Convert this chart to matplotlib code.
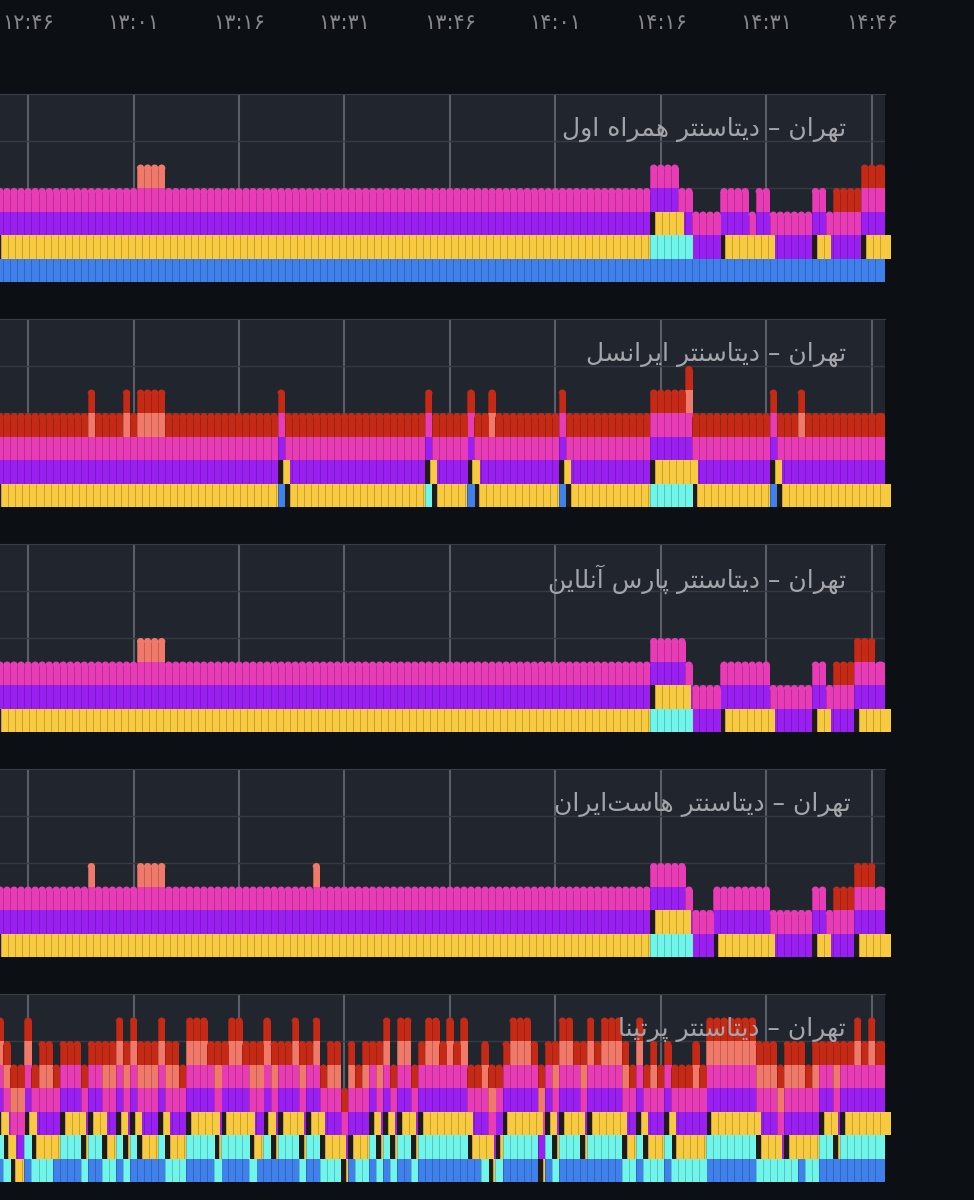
import matplotlib
matplotlib.use('Agg')
import matplotlib.pyplot as plt
from matplotlib.patches import Ellipse

# one entry per run of minutes: (statuses present in the column, number of minutes)
# b blue, c cyan, y yellow, p purple, m magenta, s salmon, r red
hamrah_cols = [
    ('bypm', 20), ('bypms', 4), ('bypm', 69), ('bcypm', 4), ('bcpm', 2), ('bpm', 4),
    ('bypm', 4), ('bym', 1), ('bypm', 2), ('bpm', 6), ('bypm', 2), ('bpm', 1),
    ('bpmr', 4), ('bypmr', 3),
]
irancell_cols = [
    ('ypmr', 13), ('ypmsr', 1), ('ypmr', 4), ('ypmsr', 1), ('ypmr', 1), ('ypmsr', 4),
    ('ypmr', 16), ('bypmr', 1), ('ypmr', 20), ('cypmr', 1), ('ypmr', 5), ('bypmr', 1),
    ('ypmr', 2), ('ypmsr', 1), ('ypmr', 9), ('bypmr', 1), ('ypmr', 12), ('cypmr', 5),
    ('cypmsr', 1), ('ypmr', 11), ('bypmr', 1), ('ypmr', 3), ('ypmsr', 1), ('ypmr', 11),
]
parsonline_cols = [
    ('ypm', 20), ('ypms', 4), ('ypm', 69), ('cypm', 5), ('cpm', 1), ('pm', 4),
    ('ypm', 7), ('pm', 6), ('ypm', 2), ('pm', 1), ('pmr', 3), ('ypmr', 3), ('ypm', 1),
]
hostiran_cols = [
    ('ypm', 13), ('ypms', 1), ('ypm', 6), ('ypms', 4), ('ypm', 21), ('ypms', 1),
    ('ypm', 47), ('cypm', 5), ('cpm', 1), ('pm', 3), ('ypm', 8), ('pm', 6), ('ypm', 2),
    ('pm', 1), ('pmr', 3), ('ypmr', 3), ('ypm', 1),
]
pertina_cols = [
    ('bcypmsr', 1), ('cypmsr', 1), ('ypmsr', 2), ('bcypmsr', 1), ('cypmr', 1), ('cypmsr', 2),
    ('bypmr', 1), ('bcypmr', 3), ('cypmr', 1), ('bcypmr', 2), ('cypmsr', 2), ('bcypmsr', 1),
    ('cypmsr', 1), ('bcypmsr', 1), ('bypmsr', 3), ('bcypmsr', 1), ('cypmsr', 2), ('cypmr', 1),
    ('bcypmsr', 3), ('bcypmr', 1), ('cypmsr', 1), ('bcypmr', 1), ('bcypmsr', 2), ('bcypmr', 1),
    ('cypmsr', 1), ('bypmsr', 1), ('bcypmsr', 1), ('bypmsr', 1), ('bcypmr', 2), ('bcypmsr', 1),
    ('cypmsr', 1), ('bcypmr', 1), ('bcypmsr', 1), ('cypmr', 1), ('cypmsr', 2), ('ypmr', 1),
    ('bypmsr', 1), ('cypmr', 1), ('cypmsr', 1), ('bcypmr', 1), ('cypmsr', 1), ('bcypmsr', 1),
    ('cypmr', 1), ('bcypmsr', 2), ('cypmr', 1), ('bcypmr', 1), ('bcypmsr', 2), ('bcypmr', 1),
    ('bcypmsr', 1), ('bcypmr', 1), ('bcypmsr', 1), ('bypmr', 2), ('cypmsr', 1), ('ypmsr', 1),
    ('cypmr', 1), ('bcypmr', 1), ('bcypmsr', 3), ('bcypmr', 1), ('ypmsr', 1), ('bcypmr', 1),
    ('cypmsr', 1), ('bcypmsr', 2), ('bcypmr', 1), ('bypmsr', 1), ('bcypmsr', 1), ('bcypmr', 1),
    ('bcypmsr', 3), ('cypmsr', 1), ('cypmr', 1), ('bcypmsr', 1), ('cypmr', 1), ('cypmsr', 1),
    ('cypmr', 1), ('bcypmr', 1), ('cypmr', 3), ('cypmsr', 1), ('cypmr', 1), ('bcypmsr', 7),
    ('cypmsr', 3), ('cpmsr', 1), ('cypmsr', 2), ('bypmsr', 1), ('cypmr', 1), ('cypmsr', 1),
    ('bcypmr', 2), ('bypmsr', 1), ('bcypmr', 2), ('bcypmsr', 1), ('bcypmr', 1), ('bcypmsr', 1),
    ('bcypmr', 1),
]

panel_cols = [hamrah_cols, irancell_cols, parsonline_cols, hostiran_cols, pertina_cols]
titles = [
    'تهران – دیتاسنتر همراه اول',
    'تهران – دیتاسنتر ایرانسل',
    'تهران – دیتاسنتر پارس آنلاین',
    'تهران – دیتاسنتر هاست\u200cایران',
    'تهران – دیتاسنتر پرتینا',
]
# minutes since 12:42 and their labels
tick_minutes = [4, 19, 34, 49, 64, 79, 94, 109, 124]
tick_labels = ['۱۲:۴۶', '۱۳:۰۱', '۱۳:۱۶', '۱۳:۳۱', '۱۳:۴۶', '۱۴:۰۱', '۱۴:۱۶', '۱۴:۳۱', '۱۴:۴۶']

colors = {
    'b': '#3f80ea', 'c': '#6ff5ea', 'y': '#f8ca40', 'p': '#9a20f2',
    'm': '#e83cb6', 's': '#f0796a', 'r': '#c52a17',
}
draw_order = [('p', 3), ('m', 3), ('s', 3), ('r', 3), ('y', 4), ('b', 5), ('c', 5)]

FIG_BG = '#0c0f14'
PANEL_BG = '#21252e'
GAP = '#201b16'
PX = 7.03  # pixels per minute
BAR_W = 1.04
YELLOW_SHIFT = 0.71
CAP = 0.15

# matplotlib does no arabic shaping, so map letters to presentation forms
forms = {
    'ت': 'ﺕﺖﺗﺘ', 'ه': 'ﻩﻪﻫﻬ', 'ن': 'ﻥﻦﻧﻨ', 'ی': 'ﯼﯽﯾﯿ', 'س': 'ﺱﺲﺳﺴ',
    'م': 'ﻡﻢﻣﻤ', 'ل': 'ﻝﻞﻟﻠ', 'پ': 'ﭖﭗﭘﭙ',
    'ر': 'ﺭﺮ', 'ا': 'ﺍﺎ', 'د': 'ﺩﺪ', 'و': 'ﻭﻮ', 'آ': 'ﺁﺂ',
}


def shape_fa(text):
    out = []
    for n, ch in enumerate(text):
        if ch not in forms:
            if ch != '\u200c':
                out.append(ch)
            continue
        prev = text[n - 1] if n > 0 else ' '
        nxt = text[n + 1] if n + 1 < len(text) else ' '
        join_prev = prev in forms and len(forms[prev]) == 4
        join_next = nxt in forms and len(forms[ch]) == 4
        if len(forms[ch]) == 2:
            out.append(forms[ch][1 if join_prev else 0])
        elif join_prev and join_next:
            out.append(forms[ch][3])
        elif join_prev:
            out.append(forms[ch][1])
        elif join_next:
            out.append(forms[ch][2])
        else:
            out.append(forms[ch][0])
    return ''.join(out[::-1])


plt.rcParams['font.family'] = ['DejaVu Sans']
fig = plt.figure(figsize=(9.74, 12), dpi=100, facecolor=FIG_BG)

for p, runs in enumerate(panel_cols):
    top_px = 94 + 225 * p
    ax = fig.add_axes([0, 1 - (top_px + 188) / 1200, 885 / 974, 188 / 1200], facecolor=PANEL_BG)
    ax.set_xlim(0, 885 / PX)
    ax.set_ylim(0, 8)
    ax.set_axisbelow(True)
    ax.set_xticks(tick_minutes)
    ax.set_yticks([2, 4, 6])
    ax.set_yticklabels([])
    ax.grid(axis='x', color='#5b5e66', lw=1.5)
    ax.grid(axis='y', color='#363a42', lw=1)
    for side in ['left', 'right', 'bottom']:
        ax.spines[side].set_visible(False)
    ax.spines['top'].set_color('#3a3d45')
    ax.tick_params(length=0)

    if p == 0:
        ax.xaxis.tick_top()
        ax.set_xticklabels(tick_labels, color='#85878c', fontsize=15)
        ax.tick_params(axis='x', pad=44)
    else:
        ax.set_xticklabels([])

    # expand the runs to one stack per minute
    stacks = []
    for stack, count in runs:
        stacks += [stack] * count

    for key, z in draw_order:
        xs, bottoms, heights, widths = [], [], [], []
        for i, stack in enumerate(stacks):
            if key not in stack:
                continue
            level = stack.index(key)
            is_top = level == len(stack) - 1
            w = BAR_W + 0.46 if i == len(stacks) - 1 else BAR_W
            left = i - BAR_W / 2
            xs.append(left)
            bottoms.append(level)
            heights.append(1 - CAP if is_top else 1)
            widths.append(w)
            if is_top:
                ax.add_patch(Ellipse((left + w / 2, level + 1 - CAP), w, 2 * CAP, lw=0,
                                     color=colors[key], zorder=z))
        if key == 'y':
            # the gap shows where yellow starts, since yellow sits a bit to the right
            ax.bar(xs, heights, widths, bottoms, align='edge', color=GAP, lw=0, zorder=2)
            xs = [x + YELLOW_SHIFT for x in xs]
        ax.bar(xs, heights, widths, bottoms, align='edge', color=colors[key], lw=0,
               zorder=z, clip_on=key != 'y')
        ax.vlines(xs, bottoms, [b + h for b, h in zip(bottoms, heights)],
                  color=(0, 0, 0, 0.2), lw=0.7, zorder=z, clip_on=key != 'y')

    title_x = 851 if p == 3 else 846
    ax.text(title_x / PX, 8 - 35 / 23.5, shape_fa(titles[p]), ha='right', va='center',
            color='#a3a5a9', fontsize=18, zorder=8)

fig.savefig('out.png', dpi=100, facecolor=FIG_BG)
